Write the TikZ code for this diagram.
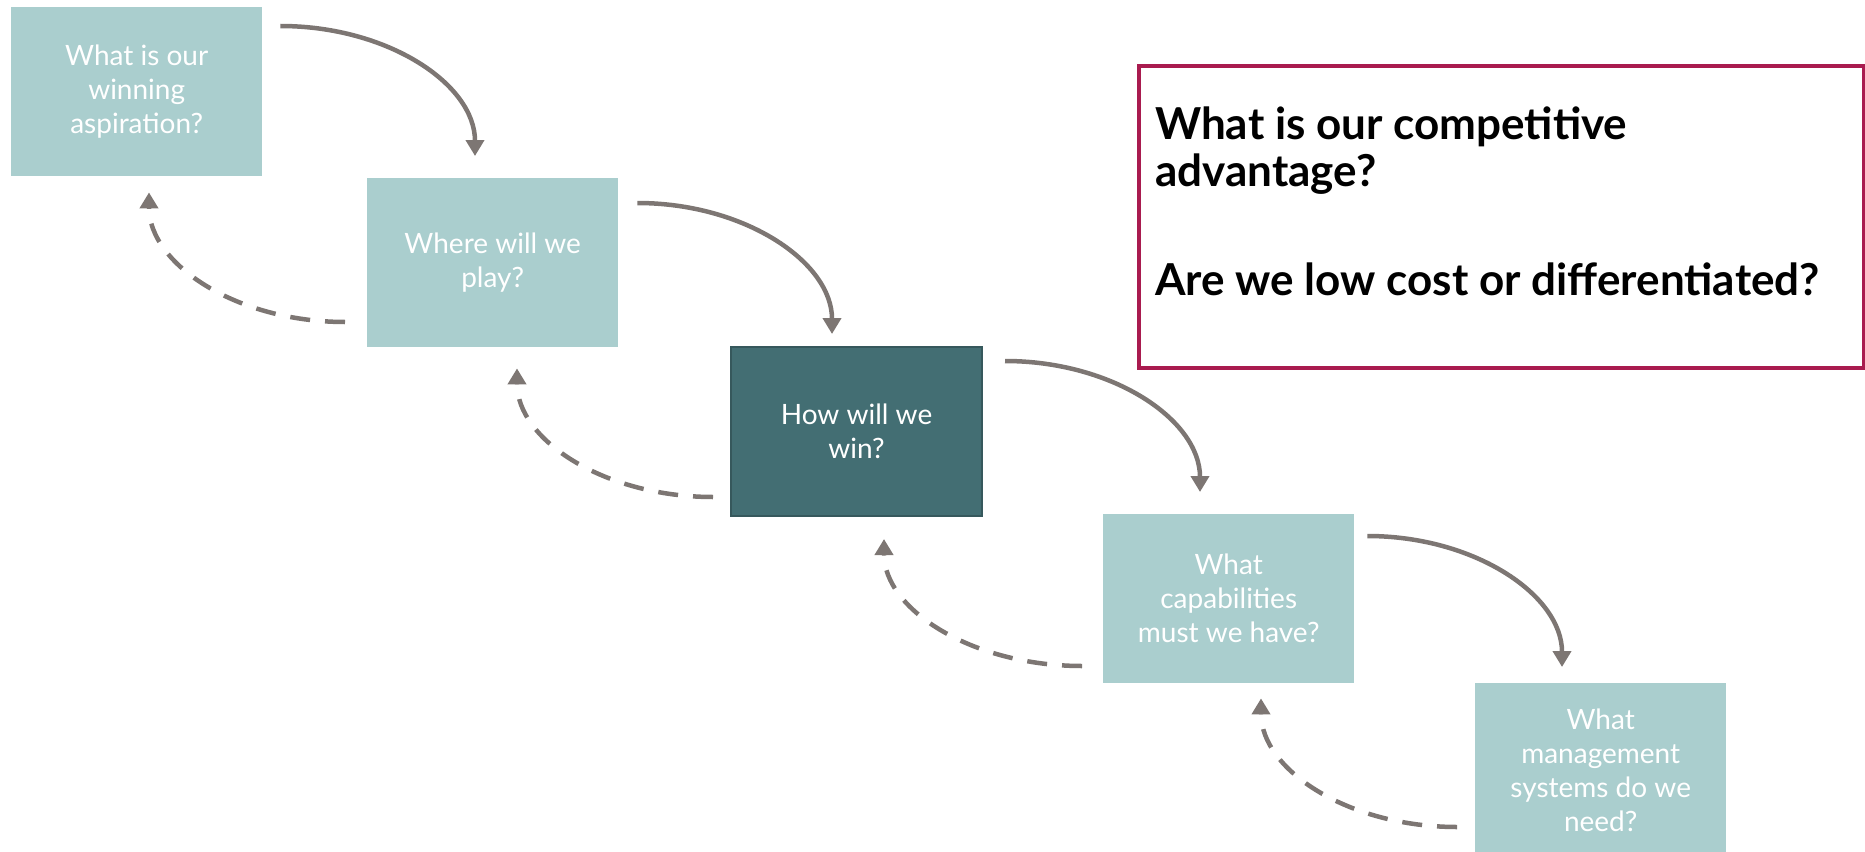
\documentclass[tikz,border=0pt]{standalone}
\usepackage{fontspec}
\setmainfont{Lato}
\newfontfamily\headfont{Lato}[UprightFont=* Bold]
\usetikzlibrary{arrows.meta}
\definecolor{lightteal}{HTML}{AACECE}
\definecolor{darkteal}{HTML}{436E73}
\definecolor{darkedge}{HTML}{36585C}
\definecolor{arrowgray}{HTML}{7D7673}
\definecolor{crimson}{HTML}{A91B4F}
\tikzset{
  stepbox/.style={rectangle, fill=lightteal, draw=none, minimum width=251pt, minimum height=169pt,
    anchor=north west, inner sep=0pt, align=center, text=white,
    font=\fontsize{28}{34}\selectfont},
  darkbox/.style={stepbox, fill=darkteal, draw=darkedge, line width=2pt},
  fwd/.style={draw=arrowgray, line width=4.5pt, -{Triangle[width=18pt,length=16pt]}},
  back/.style={fwd, dash pattern=on 20pt off 15pt},
}
\begin{document}
\begin{tikzpicture}[x=1pt,y=-1pt]
\useasboundingbox (0,0) rectangle (1865,851);
\node[stepbox] (b1) at (11,7) {What is our\\winning\\aspiration?};
\node[stepbox] (b2) at (367,178) {Where will we\\play?};
\node[darkbox] (b3) at (730,346) {How will we\\win?};
\node[stepbox] (b4) at (1103,514) {What\\capabilities\\must we have?};
\node[stepbox, minimum height=175pt] (b5) at (1475,683) {What\\management\\systems do we\\need?};
\node[rectangle, draw=crimson, line width=4pt, minimum width=725pt, minimum height=302pt,
  anchor=north west, inner sep=0pt] (q) at (1137,64) {};
\node[anchor=base west, inner sep=0pt, align=left, font=\headfont\fontsize{44}{47}\selectfont]
  (qt) at (1155,295) {What is our competitive\\advantage?\\[62pt]Are we low cost or differentiated?};
% forward arrows
\draw[fwd] ([shift={(18,19)}]b1.north east) .. controls +(107,0) and +(0,-72) .. ([shift={(108,-22)}]b2.north west);
\draw[fwd] ([shift={(19,25)}]b2.north east) .. controls +(107,0) and +(0,-72) .. ([shift={(102,-12)}]b3.north west);
\draw[fwd] ([shift={(22,15)}]b3.north east) .. controls +(108,0) and +(0,-72) .. ([shift={(97,-22)}]b4.north west);
\draw[fwd] ([shift={(13,22)}]b4.north east) .. controls +(107,0) and +(0,-72) .. ([shift={(87,-16)}]b5.north west);
% feedback arrows
\draw[back] ([shift={(-22,144)}]b2.north west) .. controls +(-108,0) and +(0,72) .. ([shift={(138,16)}]b1.south west);
\draw[back] ([shift={(-17,151)}]b3.north west) .. controls +(-108,0) and +(0,72) .. ([shift={(150,21)}]b2.south west);
\draw[back] ([shift={(-21,152)}]b4.north west) .. controls +(-109,0) and +(0,71) .. ([shift={(154,22)}]b3.south west);
\draw[back] ([shift={(-18,144)}]b5.north west) .. controls +(-108,0) and +(0,72) .. ([shift={(158,15)}]b4.south west);
\end{tikzpicture}
\end{document}
